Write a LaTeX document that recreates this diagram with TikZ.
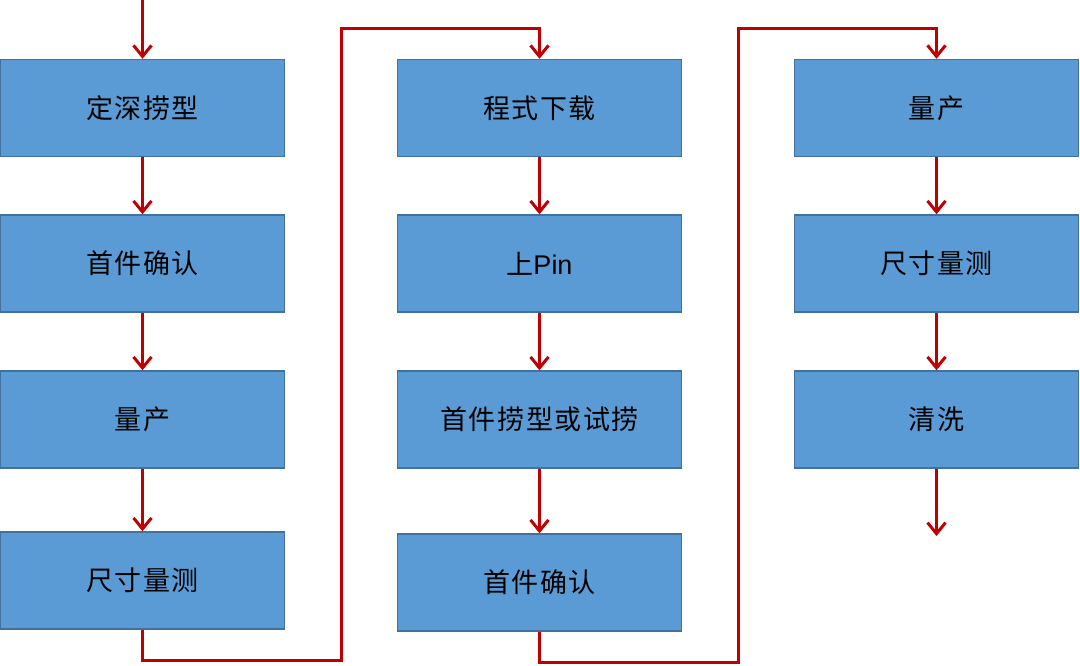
\documentclass[tikz,border=0pt]{standalone}
\usepackage{fontspec}
\setmainfont{Noto Sans CJK SC}[LetterSpace=6]
\newfontfamily\latinfont{Liberation Sans}
\usetikzlibrary{arrows.meta}
\definecolor{boxfill}{HTML}{5B9BD5}
\definecolor{boxline}{HTML}{41719C}
\definecolor{flowred}{HTML}{C00000}
\begin{document}
\begin{tikzpicture}[x=1pt,y=-1pt,
  stepbox/.style={draw=boxline,line width=1.5pt,fill=boxfill,minimum width=284pt,minimum height=97pt,inner sep=0pt,font=\fontsize{27}{31}\selectfont,text=black},
  flow/.style={draw=flowred,line width=3pt},
  flowarrow/.style={flow,-{Straight Barb[length=11pt,width=18pt,line width=3pt]}}]
\useasboundingbox (0,0) rectangle (1080,665);
% column 1
\node[stepbox] (a1) at (142.5,108) {定深捞型};
\node[stepbox] (a2) at (142.5,263.5) {首件确认};
\node[stepbox] (a3) at (142.5,419.5) {量产};
\node[stepbox] (a4) at (142.5,580.5) {尺寸量测};
% column 2
\node[stepbox] (b1) at (539.5,108) {程式下载};
\node[stepbox] (b2) at (539.5,263.5) {上{\latinfont Pin}};
\node[stepbox] (b3) at (539.5,419.5) {首件捞型或试捞};
\node[stepbox] (b4) at (539.5,582.5) {首件确认};
% column 3
\node[stepbox] (c1) at (936.5,108) {量产};
\node[stepbox] (c2) at (936.5,263.5) {尺寸量测};
\node[stepbox] (c3) at (936.5,419.5) {清洗};
% coordinates
\coordinate (start) at (142.5,0);
\coordinate (end) at (936.5,536);
\coordinate (p1) at (142.5,660);
\coordinate (p2) at (341,660);
\coordinate (p3) at (341,28);
\coordinate (p4) at (539.5,28);
\coordinate (q1) at (539.5,662);
\coordinate (q2) at (738,662);
\coordinate (q3) at (738,28);
\coordinate (q4) at (936.5,28);
% connectors
\draw[flowarrow] (start) -- (a1.north);
\draw[flowarrow] (a1) -- (a2);
\draw[flowarrow] (a2) -- (a3);
\draw[flowarrow] (a3) -- (a4);
\draw[flowarrow] (a4.south) -- (p1) -- (p2) -- (p3) -- (p4) -- (b1.north);
\draw[flowarrow] (b1) -- (b2);
\draw[flowarrow] (b2) -- (b3);
\draw[flowarrow] (b3) -- (b4);
\draw[flowarrow] (b4.south) -- (q1) -- (q2) -- (q3) -- (q4) -- (c1.north);
\draw[flowarrow] (c1) -- (c2);
\draw[flowarrow] (c2) -- (c3);
\draw[flowarrow] (c3) -- (end);
\end{tikzpicture}
\end{document}
